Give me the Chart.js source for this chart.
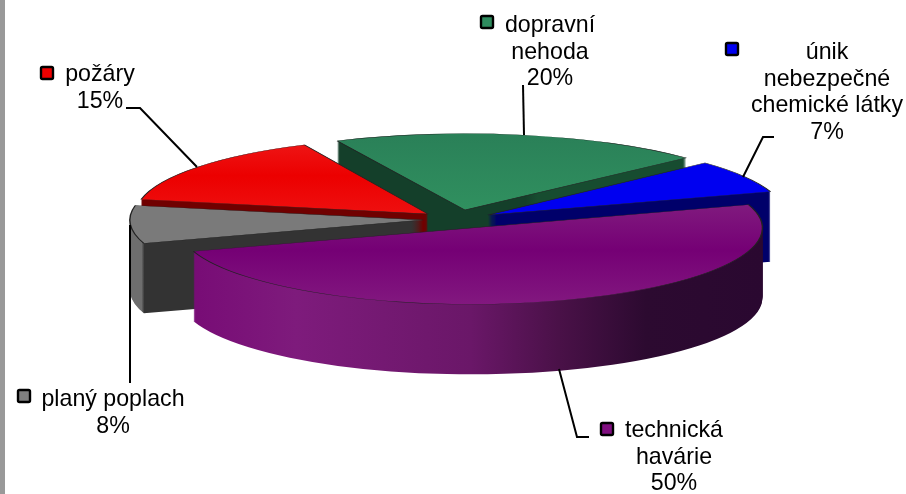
<!DOCTYPE html>
<html>
<head>
<meta charset="utf-8">
<style>
  html, body { margin: 0; padding: 0; background: #fff; overflow: hidden; }
  #wrap { position: relative; width: 906px; height: 494px; }
  #strip { position: absolute; left: 0; top: 0; width: 4.6px; height: 494px; background: #999; }
</style>
<script src="https://cdn.jsdelivr.net/npm/chart.js@4/dist/chart.umd.min.js"></script>
</head>
<body>
<div id="wrap">
  <canvas id="pie" width="906" height="494"></canvas>
  <div id="strip"></div>
</div>
<script>
// slices, clockwise from the top
const categories = ['dopravní nehoda', 'únik nebezpečné chemické látky', 'technická havárie', 'planý poplach', 'požáry'];
const shares = [20, 7, 50, 8, 15];
const labelLines = [
  ['dopravní', 'nehoda'],
  ['únik', 'nebezpečné', 'chemické látky'],
  ['technická', 'havárie'],
  ['planý poplach'],
  ['požáry']
];

const swatches = ['#2e8b5e', '#0000f0', '#800f80', '#808080', '#ee0000'];

// 3d look
const tilt = 0.265;
const depth = 70;
const paintOrder = [0, 4, 1, 3, 2];
// where each exploded slice sits relative to the pie centre, and how much wider it looks
const sliceShift = [[8, -8], [31, -3], [14, 10], [-34, 2], [-29, -4]];
const sliceWiden = [1.05, 1.03, 1.012, 1.018, 1.015];
const topStops = [
  [[0, '#2a8058'], [0.5, '#30905f'], [1, '#30905f']],
  [[0, '#0000f0'], [1, '#0000f0']],
  [[0.35, '#801a7e'], [0.645, '#750075'], [1, '#82187f']],
  [[0, '#7a7a7a'], [1, '#7a7a7a']],
  [[0.05, '#ee1414'], [0.25, '#ec0000'], [0.5, '#ee1010']]
];
const sideStops = [
  [[0, '#143f2a'], [0.6, '#143f2a'], [0.62, '#174c30'], [1, '#174c30']],
  [[0, '#00006a'], [1, '#00006a']],
  [[0, '#770a75'], [0.2, '#7e1b7c'], [0.5, '#6a1768'], [0.65, '#4a1148'], [0.8, '#2c0a30'], [1, '#2a0830']],
  [[0, '#6e6e6e'], [0.02, '#6e6e6e'], [0.025, '#333333'], [1, '#333333']],
  [[0, '#700000'], [1, '#700000']]
];

// label placement: x = centre of the text, y = first baseline, key = legend square
const labelBoxes = [
  { x: 550, y: 32, key: [481, 16] },
  { x: 827, y: 59, key: [726, 43] },
  { x: 674, y: 437, key: [601, 423] },
  { x: 113, y: 406, key: [18, 390] },
  { x: 100, y: 81, key: [41, 67] }
];
const leaders = [
  [[523, 85], [524, 135]],
  [[774, 137], [763, 137], [743, 177]],
  [[559, 369], [577, 437], [589, 437]],
  [[130, 225], [130, 383]],
  [[126, 108], [140, 108], [197, 167]]
];

function makeGradient(ctx, x0, y0, x1, y1, stops) {
  const g = ctx.createLinearGradient(x0, y0, x1, y1);
  stops.forEach(s => g.addColorStop(s[0], s[1]));
  return g;
}

const pie3d = {
  id: 'pie3d',
  beforeDatasetsDraw: function (chart) {
    const ctx = chart.ctx;
    const arcs = chart.getDatasetMeta(0).data;

    paintOrder.forEach(i => {
      const arc = arcs[i];
      const R = arc.outerRadius;
      const ax = arc.x + sliceShift[i][0];
      const ay = arc.y + sliceShift[i][1];
      const saved = arc.options;

      const placed = function (dy) {
        ctx.save();
        ctx.translate(ax, ay + dy);
        ctx.scale(sliceWiden[i], tilt);
        ctx.translate(-arc.x, -arc.y);
        arc.draw(ctx);
        ctx.restore();
      };

      // walls: the same slice stacked downwards
      arc.options = Object.assign({}, saved, {
        borderWidth: 0,
        backgroundColor: makeGradient(ctx, arc.x - R, 0, arc.x + R, 0, sideStops[i])
      });
      for (let d = depth; d >= 1; d--) placed(d);

      // top face
      arc.options = Object.assign({}, saved, {
        borderWidth: 1.4,
        borderColor: '#222',
        backgroundColor: makeGradient(ctx, 0, arc.y - R, 0, arc.y + R, topStops[i])
      });
      placed(0);
      arc.options = saved;
    });
    return false;
  },
  afterDraw: function (chart) {
    const ctx = chart.ctx;
    ctx.save();

    ctx.strokeStyle = '#000';
    ctx.lineWidth = 2;
    leaders.forEach(pts => {
      ctx.beginPath();
      pts.forEach((p, n) => n ? ctx.lineTo(p[0], p[1]) : ctx.moveTo(p[0], p[1]));
      ctx.stroke();
    });

    ctx.font = '23.2px "Liberation Sans", Arial, sans-serif';
    ctx.textAlign = 'center';
    ctx.textBaseline = 'alphabetic';
    categories.forEach((c, i) => {
      const box = labelBoxes[i];
      const lines = labelLines[i].concat(shares[i] + '%');
      ctx.fillStyle = '#000';
      lines.forEach((t, n) => ctx.fillText(t, box.x, box.y + n * 26.7));

      ctx.beginPath();
      ctx.roundRect(box.key[0], box.key[1], 12, 12, 1.5);
      ctx.fillStyle = swatches[i];
      ctx.fill();
      ctx.lineWidth = 2.4;
      ctx.stroke();
    });
    ctx.restore();
  }
};

const chart = new Chart(document.getElementById('pie').getContext('2d'), {
  type: 'pie',
  data: {
    labels: categories,
    datasets: [{
      data: shares,
      backgroundColor: swatches,
      borderWidth: 0
    }]
  },
  options: {
    responsive: false,
    animation: false,
    rotation: -25,
    radius: 288,
    layout: { padding: { left: 8, bottom: 58 } },
    plugins: {
      legend: { display: false },
      tooltip: { enabled: false }
    }
  },
  plugins: [pie3d]
});
</script>
</body>
</html>
